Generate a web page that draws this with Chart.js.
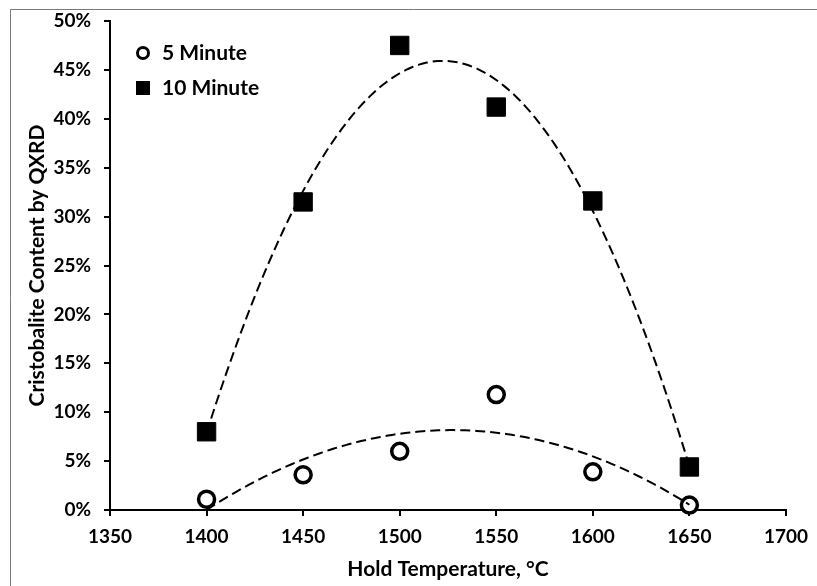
<!DOCTYPE html>
<html>
<head>
<meta charset="utf-8">
<script src="https://cdn.jsdelivr.net/npm/chart.js@4/dist/chart.umd.min.js"></script>
<style>
  html, body { margin: 0; padding: 0; background: #fff; }
  canvas { display: block; }
</style>
</head>
<body>
<canvas id="c" width="817" height="586"></canvas>
<script>
// Hold temperatures (°C) and cristobalite content (%) by QXRD
const temperatures = [1400, 1450, 1500, 1550, 1600, 1650];
const fiveMinute = [1.1, 3.6, 6.0, 11.8, 3.9, 0.5];
const tenMinute = [8.0, 31.5, 47.5, 41.2, 31.6, 4.4];
const seriesNames = ['5 Minute', '10 Minute'];
const xTicks = [1350, 1400, 1450, 1500, 1550, 1600, 1650, 1700];
const yTicks = [0, 5, 10, 15, 20, 25, 30, 35, 40, 45, 50];

const FONT = 'Lato, "Open Sans", sans-serif';

// Second-order polynomial least-squares trendline over the measured points
function quadraticTrend(xs, ys) {
  const n = xs.length;
  const xm = xs.reduce((a, b) => a + b, 0) / n;
  const s = [0, 0, 0, 0, 0], t = [0, 0, 0];
  xs.forEach((x, i) => {
    const u = x - xm;
    for (let k = 0; k <= 4; k++) s[k] += Math.pow(u, k);
    for (let k = 0; k <= 2; k++) t[k] += Math.pow(u, k) * ys[i];
  });
  // Solve the 3x3 normal equations
  const M = [[s[0], s[1], s[2], t[0]], [s[1], s[2], s[3], t[1]], [s[2], s[3], s[4], t[2]]];
  for (let i = 0; i < 3; i++) {
    for (let j = i + 1; j < 3; j++) {
      const f = M[j][i] / M[i][i];
      for (let k = i; k < 4; k++) M[j][k] -= f * M[i][k];
    }
  }
  const c = [0, 0, 0];
  for (let i = 2; i >= 0; i--) {
    let v = M[i][3];
    for (let k = i + 1; k < 3; k++) v -= M[i][k] * c[k];
    c[i] = v / M[i][i];
  }
  const lo = Math.min(...xs), hi = Math.max(...xs);
  const pts = [];
  for (let x = lo; x <= hi; x += 2) {
    const u = x - xm;
    pts.push({ x: x, y: c[0] + c[1] * u + c[2] * u * u });
  }
  return pts;
}

const toPoints = (ys) => temperatures.map((x, i) => ({ x: x, y: ys[i] }));

const trendStyle = {
  type: 'line',
  borderColor: '#000',
  borderWidth: 2,
  borderDash: [10, 5],
  pointRadius: 0,
  fill: false,
  tension: 0,
  clip: false
};

// Frame around the figure and the in-plot legend
const decorations = {
  id: 'decorations',
  afterDraw(chart) {
    const ctx = chart.ctx;
    ctx.save();
    ctx.strokeStyle = '#7a7a7a';
    ctx.lineWidth = 1;
    ctx.beginPath();
    ctx.moveTo(10.5, 586);
    ctx.lineTo(10.5, 9.5);
    ctx.lineTo(817, 9.5);
    ctx.stroke();

    const lx = 143, rows = [53, 88];
    ctx.fillStyle = '#000';
    ctx.strokeStyle = '#000';
    // open circle
    ctx.lineWidth = 3;
    ctx.beginPath();
    ctx.arc(lx, rows[0], 5.5, 0, Math.PI * 2);
    ctx.stroke();
    // filled square
    ctx.fillRect(lx - 7, rows[1] - 7, 14, 14);

    ctx.font = 'bold 21px ' + FONT;
    ctx.textBaseline = 'middle';
    ctx.textAlign = 'left';
    ctx.fillText(seriesNames[0], 162, rows[0]);
    ctx.fillText(seriesNames[1], 162, rows[1]);
    ctx.restore();
  }
};

new Chart(document.getElementById('c'), {
  type: 'scatter',
  data: {
    datasets: [
      Object.assign({ label: seriesNames[0] + ' trend', data: quadraticTrend(temperatures, fiveMinute) }, trendStyle),
      Object.assign({ label: seriesNames[1] + ' trend', data: quadraticTrend(temperatures, tenMinute) }, trendStyle),
      {
        label: seriesNames[0],
        data: toPoints(fiveMinute),
        pointStyle: 'circle',
        pointRadius: 8,
        pointBorderWidth: 3.5,
        pointBackgroundColor: '#fff',
        pointBorderColor: '#000',
        showLine: false,
        clip: false
      },
      {
        label: seriesNames[1],
        data: toPoints(tenMinute),
        pointStyle: 'rect',
        pointRadius: 13,
        pointBorderWidth: 1,
        pointBackgroundColor: '#000',
        pointBorderColor: '#000',
        showLine: false,
        clip: false
      }
    ]
  },
  options: {
    responsive: false,
    animation: false,
    devicePixelRatio: 1,
    layout: { padding: { left: 0, top: 21, right: 27, bottom: 0 } },
    plugins: { legend: { display: false }, tooltip: { enabled: false } },
    scales: {
      x: {
        type: 'linear',
        min: xTicks[0],
        max: xTicks[xTicks.length - 1],
        afterBuildTicks(scale) { scale.ticks = xTicks.map(v => ({ value: v })); },
        afterFit(scale) { scale.height = 76; },
        grid: { display: true, drawOnChartArea: false, drawTicks: true, tickLength: 6, color: '#000', lineWidth: 2 },
        border: { display: true, color: '#000', width: 2 },
        ticks: {
          color: '#000',
          padding: 9,
          font: { family: FONT, size: 19, weight: 'bold' },
          maxRotation: 0,
          callback: (v) => String(v)
        },
        title: {
          display: true,
          text: 'Hold Temperature, °C',
          color: '#000',
          font: { family: FONT, size: 21, weight: 'bold' },
          padding: { top: 0, bottom: 4 }
        }
      },
      y: {
        type: 'linear',
        min: yTicks[0],
        max: yTicks[yTicks.length - 1],
        afterBuildTicks(scale) { scale.ticks = yTicks.map(v => ({ value: v })); },
        afterFit(scale) {
          scale.width = 110;
          scale.paddingTop = 0;
          scale.paddingBottom = 0;
        },
        grid: { display: true, drawOnChartArea: false, drawTicks: true, tickLength: 6, color: '#000', lineWidth: 2 },
        border: { display: true, color: '#000', width: 2 },
        ticks: {
          color: '#000',
          padding: 13,
          font: { family: FONT, size: 19, weight: 'bold' },
          callback: (v) => v + '%'
        },
        title: {
          display: true,
          text: 'Cristobalite Content by QXRD',
          color: '#000',
          font: { family: FONT, size: 21, weight: 'bold' },
          padding: { top: 25, bottom: 0 }
        }
      }
    }
  },
  plugins: [decorations]
});
</script>
</body>
</html>
